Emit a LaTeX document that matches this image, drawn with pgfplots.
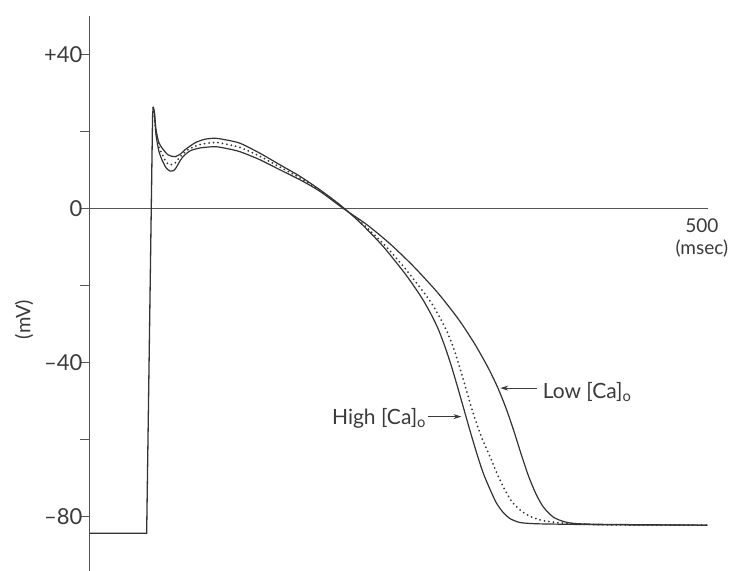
\documentclass[border=0pt]{standalone}
\usepackage{fontspec}
\setmainfont{Lato}
\usepackage{pgfplots}
\pgfplotsset{compat=1.18}
\usetikzlibrary{arrows.meta}
\definecolor{ink}{HTML}{333333}
\definecolor{axc}{HTML}{555555}
\definecolor{txt}{HTML}{3a3a3a}

\pgfplotstableread{
t V
51.5 26.2
52.5 25
53.8 20.4
56 17.2
58.6 15.7
63.5 13.9
69.2 13.4
74 14.2
77.3 15.2
85.4 17.0
93 17.9
101.6 18.2
110 17.8
121.9 16.9
138.1 14.3
154.3 11.3
170.6 8.3
186.8 4.8
203 0.9
219 -3.6
238 -9.9
257 -17.5
270 -23.6
278 -28.2
283 -31.6
288 -35.8
293 -40.6
298 -46
303 -51.6
308.5 -57.8
313.9 -63.6
319 -68.6
324.7 -73
330 -76.6
335.4 -79
341 -80.6
348.9 -81.6
360 -81.9
373 -82.0
420 -82.2
501 -82.3
}\highca

\pgfplotstableread{
t V
51.5 26.2
52.5 24.5
53.8 19.1
56 15
58.6 12.6
62 10.5
65.1 9.7
68 9.8
70 10.5
74.9 13.1
81.3 14.9
90 15.7
101.6 16.0
110 15.6
121.9 14.7
138.1 12.6
154.3 10.0
170.6 7.4
186.8 4.4
205.5 0
224.6 -4.2
243.5 -9.2
262.4 -15.0
281.4 -21.6
294.9 -27.0
303 -30.6
313 -35.6
323 -41.3
331 -46.6
338 -52.2
344 -57.8
350 -63.9
356 -69.6
362 -74.2
368 -77.6
376 -80.2
385 -81.4
395 -81.9
420 -82.1
501 -82.3
}\lowca

\pgfplotstableread{
t V
51.5 26.2
53.8 19.8
56 16
58.6 14.2
62 12
65 11.3
69 11.7
74 13.6
80 15.3
90 16.6
101.6 17.1
110 16.7
121.9 15.8
138.1 13.5
154.3 10.7
170.6 7.9
186.8 4.6
204 0.5
220 -3.6
240 -9.8
258 -16.5
275 -23.6
282 -27.2
289.5 -31.8
295 -36.2
300 -41.2
305.5 -47.2
311 -53.2
318 -59.6
324.7 -64.5
330 -68.6
335.4 -72.3
342 -76
348.9 -78.3
356 -79.8
365 -80.9
376 -81.5
386.7 -81.8
420 -82.2
501 -82.3
}\midca

\begin{document}
\begin{tikzpicture}
\begin{axis}[
  at={(89.7pt,0pt)}, anchor=south west,
  scale only axis, width=618.3pt, height=555.2pt,
  xmin=0, xmax=501.5, ymin=-94.2, ymax=50,
  axis x line*=middle, axis y line*=left,
  axis line style={axc, line width=1.2pt},
  hide obscured x ticks=false, hide obscured y ticks=false,
  tick align=outside,
  major tick length=10pt, minor tick length=6pt,
  tick style={axc, line width=1.1pt},
  xtick=\empty,
  minor xtick={100,200,300,400,500},
  ytick={-80,-60,-40,-20,0,20,40},
  yticklabels={\textendash 80,,\textendash 40,,0,,+40},
  /pgf/number format/assume math mode=true,
  tick label style={font=\fontsize{22}{26}\selectfont, text=txt},
  yticklabel style={inner sep=1pt, xshift=4pt},
  xlabel={500\\(msec)},
  xlabel style={at={(axis description cs:0.990,0.653)}, anchor=north, yshift=-7pt, align=center, font=\fontsize{19}{22}\selectfont, text=txt},
  ylabel={(mV)},
  ylabel style={at={(axis description cs:-0.106,0.453)}, anchor=center, font=\fontsize{20}{23}\selectfont, text=txt},
  clip=false,
]
% resting + upstroke (shared)
\addplot[ink, line width=1.3pt] coordinates {(0,-84.4) (46.2,-84.4) (51.0,24) (51.5,26.2)};
\addplot[ink, line width=1.2pt, smooth, tension=0.45] table[x=t,y=V] {\highca};
\addplot[ink, line width=1.2pt, smooth, tension=0.45] table[x=t,y=V] {\lowca};
\addplot[ink, line width=2pt, line cap=round, dash pattern=on 0pt off 4.5pt, smooth, tension=0.45] table[x=t,y=V] {\midca};

\draw[txt, line width=0.9pt, -{Stealth[length=8pt,width=5pt]}] (axis cs:362.5,-46.7) -- (axis cs:333,-46.7);
\node[anchor=west, text=txt, font=\fontsize{21}{24}\selectfont, inner sep=1pt] at (axis cs:366.5,-47.6) {Low [Ca]\textsubscript{o}};
\draw[txt, line width=0.9pt, -{Stealth[length=8pt,width=5pt]}] (axis cs:274.6,-54.1) -- (axis cs:301.5,-54.1);
\node[anchor=east, text=txt, font=\fontsize{21}{24}\selectfont, inner sep=1pt] at (axis cs:273.8,-54.6) {High [Ca]\textsubscript{o}};
\end{axis}
\pgfresetboundingbox
\useasboundingbox (0,0) rectangle (732pt,571pt);
\end{tikzpicture}
\end{document}
